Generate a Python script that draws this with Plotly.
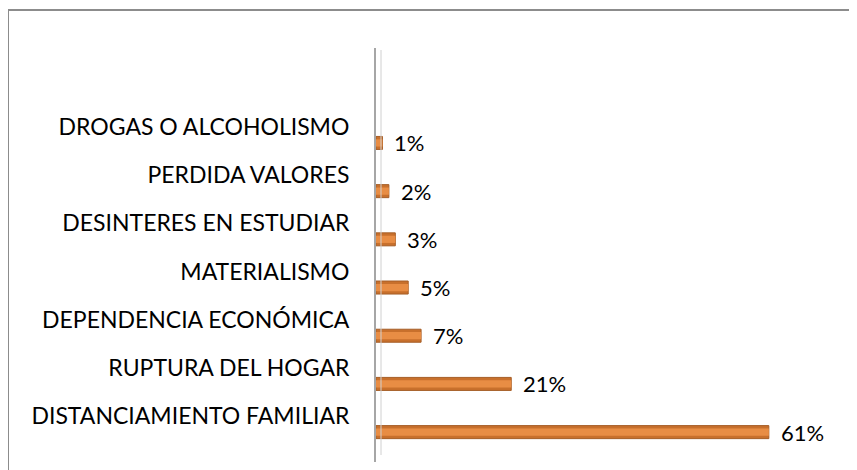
import plotly.graph_objects as go

categories = ["DISTANCIAMIENTO FAMILIAR", "RUPTURA DEL HOGAR", "DEPENDENCIA ECONÓMICA",
              "MATERIALISMO", "DESINTERES EN ESTUDIAR", "PERDIDA VALORES", "DROGAS O ALCOHOLISMO"]
values = [61, 21, 7, 5, 3, 2, 1]
value_labels = ["61%", "21%", "7%", "5%", "3%", "2%", "1%"]

W, H = 857, 470
OFF = 8  # page body margin
ML, MT = 376 - OFF, 48 - OFF
MR = W - (840 - OFF)
MB = H - (462 - OFF)
pw = W - ML - MR
ph = H - MT - MB

fig = go.Figure()
fig.add_trace(go.Bar(
    y=categories, x=values, orientation="h", width=0.27,
    marker=dict(color="#C8702C", line=dict(color="#A65E27", width=1)),
    hoverinfo="skip",
))
fig.add_trace(go.Bar(
    y=categories, x=values, orientation="h", width=0.15,
    marker=dict(color="#E88D44", line=dict(width=0)),
    hoverinfo="skip",
))

for c, v, t in zip(categories, values, value_labels):
    fig.add_annotation(x=v, y=c, text=t, showarrow=False, xanchor="left", yanchor="middle",
                       xshift=10, font=dict(family="Lato", size=22, color="#000000"))

def px_x(p):
    return (p - OFF - ML) / pw

def px_y(p):
    return (H - MB - (p - OFF)) / ph

# chart border (top and left visible)
fig.add_shape(type="line", xref="paper", yref="paper", x0=px_x(8), x1=px_x(880),
              y0=px_y(10), y1=px_y(10), line=dict(color="#8C8C8C", width=2))
fig.add_shape(type="line", xref="paper", yref="paper", x0=px_x(8), x1=px_x(8),
              y0=px_y(10), y1=px_y(490), line=dict(color="#8C8C8C", width=2))
# 3D wall inner line
fig.add_shape(type="line", xref="paper", yref="paper", x0=px_x(381), x1=px_x(381),
              y0=px_y(50), y1=px_y(455), line=dict(color="#D0D0D0", width=1))

fig.update_layout(
    width=W, height=H,
    margin=dict(l=ML, r=MR, t=MT, b=MB),
    paper_bgcolor="white", plot_bgcolor="white",
    showlegend=False, barmode="overlay",
    xaxis=dict(range=[0, pw / 6.44], showgrid=False, zeroline=False, showticklabels=False,
               showline=False, fixedrange=True),
    yaxis=dict(type="category", categoryorder="array", categoryarray=categories,
               range=[-0.62, 7.97], showgrid=False, zeroline=False,
               showline=True, linecolor="#A6A6A6", linewidth=2,
               ticks="", ticklabelstandoff=20, ticklabelshift=-16,
               tickfont=dict(family="Lato", size=23, color="#000000")),
    font=dict(family="Lato"),
)

fig.write_html("out.html")
